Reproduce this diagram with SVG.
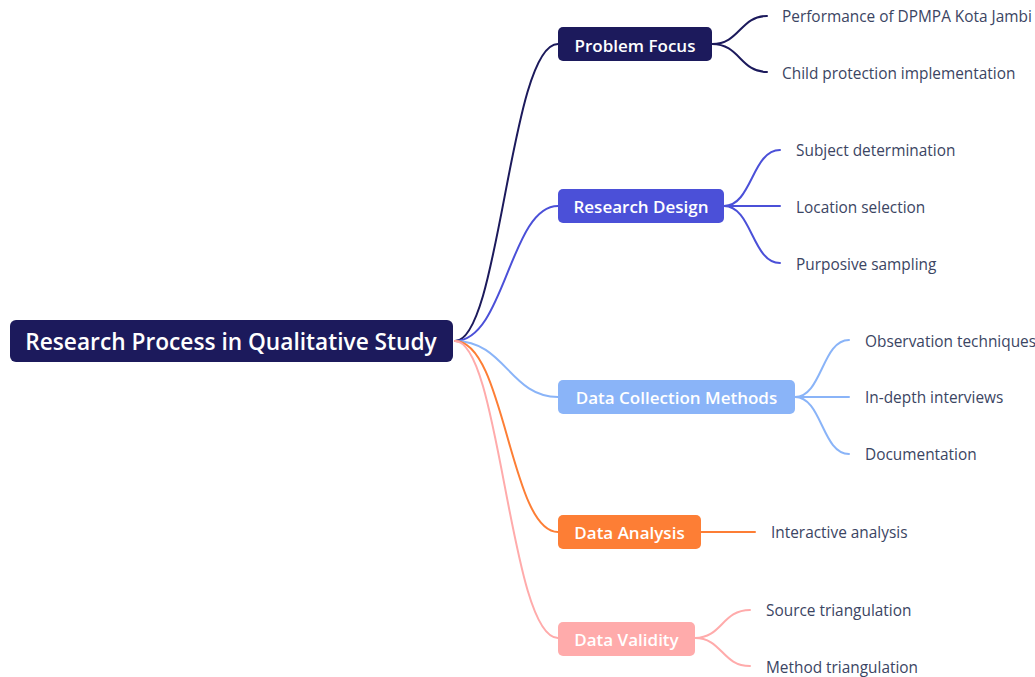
<svg xmlns="http://www.w3.org/2000/svg" width="1035" height="677" viewBox="0 0 1035 677">
<style>
.root{font-family:"Open Sans","Noto Sans",sans-serif;font-weight:600;font-size:22.7px;fill:#fff}
.br{font-family:"Open Sans","Noto Sans",sans-serif;font-weight:600;font-size:17px;fill:#fff}
.lf{font-family:"Open Sans","Noto Sans",sans-serif;font-size:15.4px;fill:#3b4563}
.c{fill:none;stroke-width:2;stroke-linecap:round}
</style>
<rect width="1035" height="677" fill="#fff"/>
<g id="connectors">
<path class="c" stroke="#1c1a5c" d="M455,341 C500,341 510,44 558,44"/>
<path class="c" stroke="#4b50d8" d="M455,341 C505,341 510,206 558,206"/>
<path class="c" stroke="#8ab4f8" d="M455,341 C505,341 510,397 558,397"/>
<path class="c" stroke="#fd7e35" d="M455,341 C505,341 510,532 558,532"/>
<path class="c" stroke="#ffabab" d="M455,341 C500,341 510,638 558,638"/>
<path class="c" stroke="#1c1a5c" d="M712,44 C740,44 740,16 767,16 M712,44 C740,44 740,72 767,72"/>
<path class="c" stroke="#4b50d8" d="M724,206 C752,206 752,150 780,150 M724,206 H780 M724,206 C752,206 752,263 780,263"/>
<path class="c" stroke="#8ab4f8" d="M795,397 C822,397 822,340 849,340 M795,397 H849 M795,397 C822,397 822,454 849,454"/>
<path class="c" stroke="#fd7e35" d="M701,532 H755"/>
<path class="c" stroke="#ffabab" d="M695,638 C722,638 722,610 750,610 M695,638 C722,638 722,666 750,666"/>
</g>
<g id="root"><rect x="10" y="320" width="443" height="42" rx="6" fill="#1c1a5c"/><text class="root" x="231" y="350" text-anchor="middle">Research Process in Qualitative Study</text></g>
<g id="problem-focus"><rect x="558" y="27" width="154" height="34" rx="5" fill="#1c1a5c"/><text class="br" x="635" y="51.5" text-anchor="middle">Problem Focus</text></g>
<g id="research-design"><rect x="558" y="189" width="166" height="34" rx="5" fill="#4b50d8"/><text class="br" x="641" y="213" text-anchor="middle">Research Design</text></g>
<g id="data-collection"><rect x="558" y="380" width="237" height="34" rx="5" fill="#8ab4f8"/><text class="br" x="676.5" y="404" text-anchor="middle">Data Collection Methods</text></g>
<g id="data-analysis"><rect x="558" y="515" width="143" height="34" rx="5" fill="#fd7e35"/><text class="br" x="629.5" y="539" text-anchor="middle">Data Analysis</text></g>
<g id="data-validity"><rect x="558" y="622" width="137" height="34" rx="5" fill="#ffabab"/><text class="br" x="626.5" y="646" text-anchor="middle">Data Validity</text></g>
<g id="leaf-pf1"><text class="lf" x="782" y="22">Performance of DPMPA Kota Jambi</text></g>
<g id="leaf-pf2"><text class="lf" x="782" y="79">Child protection implementation</text></g>
<g id="leaf-rd1"><text class="lf" x="796" y="156">Subject determination</text></g>
<g id="leaf-rd2"><text class="lf" x="796" y="213">Location selection</text></g>
<g id="leaf-rd3"><text class="lf" x="796" y="270">Purposive sampling</text></g>
<g id="leaf-dc1"><text class="lf" x="865" y="347">Observation techniques</text></g>
<g id="leaf-dc2"><text class="lf" x="865" y="403">In-depth interviews</text></g>
<g id="leaf-dc3"><text class="lf" x="865" y="460">Documentation</text></g>
<g id="leaf-da1"><text class="lf" x="771" y="538">Interactive analysis</text></g>
<g id="leaf-dv1"><text class="lf" x="766" y="616">Source triangulation</text></g>
<g id="leaf-dv2"><text class="lf" x="766" y="673">Method triangulation</text></g>
</svg>
